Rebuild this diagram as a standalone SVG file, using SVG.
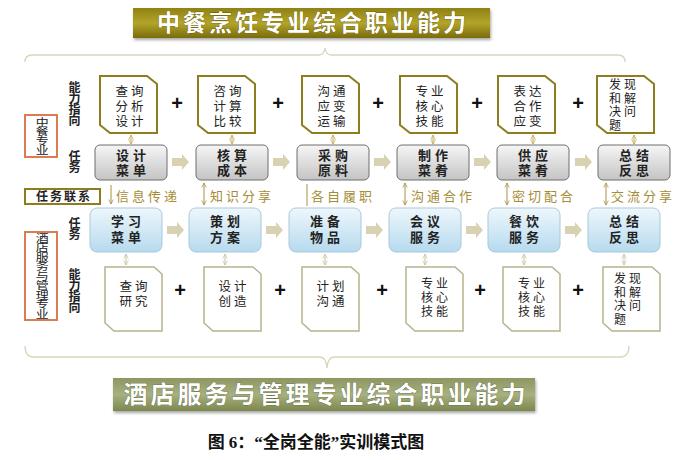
<svg xmlns="http://www.w3.org/2000/svg" width="685" height="460" viewBox="0 0 685 460">
<defs>
<linearGradient id="gTitle" x1="0" y1="0" x2="0" y2="1">
<stop offset="0" stop-color="#8f8112"/><stop offset="0.5" stop-color="#b3a42a"/><stop offset="1" stop-color="#7a6c0c"/>
</linearGradient>
<linearGradient id="gGreen" x1="0" y1="0" x2="0" y2="1">
<stop offset="0" stop-color="#8c9762"/><stop offset="0.5" stop-color="#a7b07e"/><stop offset="1" stop-color="#7c874f"/>
</linearGradient>
<linearGradient id="gGray" x1="0" y1="0" x2="0" y2="1">
<stop offset="0" stop-color="#f6f6f6"/><stop offset="1" stop-color="#c4c4c4"/>
</linearGradient>
<linearGradient id="gBlue" x1="0" y1="0" x2="0" y2="1">
<stop offset="0" stop-color="#eef7fc"/><stop offset="1" stop-color="#b6daee"/>
</linearGradient>
<filter id="sh" x="-10%" y="-20%" width="120%" height="150%">
<feDropShadow dx="1" dy="2" stdDeviation="1.5" flood-color="#000" flood-opacity="0.35"/>
</filter>
<marker id="ah" viewBox="0 0 8 8" refX="7" refY="4" markerWidth="6" markerHeight="6" orient="auto-start-reverse">
<path d="M1,1 L7,4 L1,7" fill="none" stroke="#a89040" stroke-width="1"/>
</marker>
<marker id="ahT" viewBox="0 0 8 8" refX="7" refY="4" markerWidth="6" markerHeight="6" orient="auto-start-reverse">
<path d="M1,1 L7,4 L1,7" fill="none" stroke="#c0a850" stroke-width="1"/>
</marker>
<marker id="ahB" viewBox="0 0 8 8" refX="7" refY="4" markerWidth="6" markerHeight="6" orient="auto-start-reverse">
<path d="M1,1 L7,4 L1,7" fill="none" stroke="#c8c2a2" stroke-width="1"/>
</marker>
<path id="blk" d="M0,-4 H10 V-8 L17,0 L10,8 V4 H0 Z"/>
</defs>
<style>
text{font-family:"Liberation Sans","Noto Sans CJK SC",sans-serif;}
.t{font-size:12.5px;fill:#222;text-anchor:middle;letter-spacing:3px;}
.t3{font-size:12px;fill:#222;text-anchor:middle;letter-spacing:3px;}
.ts{font-size:12px;fill:#222;letter-spacing:3px;}
.tb{font-size:13px;fill:#222;font-weight:600;text-anchor:middle;letter-spacing:4px;}
.side{font-size:12px;fill:#222;font-weight:bold;writing-mode:vertical-rl;letter-spacing:-0.8px;}
.vert{font-size:10px;fill:#222;writing-mode:vertical-rl;letter-spacing:-0.5px;}
.lbl{font-size:13px;fill:#a58d35;letter-spacing:3px;}
.plus{font-size:20px;fill:#111;text-anchor:middle;font-weight:bold;}
.docT{fill:#fff;stroke:#8d7d1f;stroke-width:2;}
.docB{fill:#fff;stroke:#b6b28e;stroke-width:1.5;}
.gray{fill:url(#gGray);stroke:#6e6e6e;stroke-width:1;}
.blue{fill:url(#gBlue);stroke:#a9c9dc;stroke-width:1;}
.brace{fill:none;stroke:#d9d5bb;stroke-width:1.3;}
.ar{fill:#d8d2b2;}
.dT{stroke:#c0a850;stroke-width:1;marker-start:url(#ahT);marker-end:url(#ahT);}
.dB{stroke:#c8c2a2;stroke-width:1;marker-start:url(#ahB);marker-end:url(#ahB);}
.lk{stroke:#a89040;stroke-width:1;fill:none;}
</style>

<!-- Title -->
<g id="title-top">
<rect x="133" y="8" width="357" height="30" fill="url(#gTitle)" filter="url(#sh)"/>
<text x="313" y="31" font-size="23" font-weight="bold" fill="#fff" text-anchor="middle" letter-spacing="3" style="paint-order:stroke" stroke="#5a5000" stroke-width="0.6">中餐烹饪专业综合职业能力</text>
</g>

<!-- Braces -->
<g id="braces">
<path class="brace" d="M25,62 Q25,55 32,55 H319 Q324,55 325,48 Q326,55 331,55 H618 Q625,55 625,62"/>
<path class="brace" d="M25,346 Q25,357 34,357 H320 Q326,357 327,368 Q328,357 334,357 H620 Q629,357 629,346"/>
</g>

<!-- Left labels -->
<g id="left-labels">
<text class="side" x="73" y="81">能力指向</text>
<text class="side" x="73" y="150">任务</text>
<text class="side" x="73" y="217">任务</text>
<text class="side" x="73" y="268">能力指向</text>
</g>
<g id="major-chef">
<rect x="25" y="115" width="32" height="42" fill="#fff" stroke="#dd7d4f" stroke-width="2"/>
<text class="vert" transform="translate(41,117) scale(1.3,1)" x="0" y="0">中餐专业</text>
</g>
<g id="link-label">
<rect x="25" y="189" width="75" height="15" fill="#fff" stroke="#8d7d1f" stroke-width="2"/>
<text x="64" y="201" font-size="12" font-weight="bold" fill="#222" text-anchor="middle" letter-spacing="2">任务联系</text>
</g>
<g id="major-hotel">
<rect x="25" y="232" width="32" height="88" fill="#fff" stroke="#dd7d4f" stroke-width="2"/>
<text class="vert" transform="translate(41,233) scale(1.3,1)" x="0" y="0">酒店服务与管理专业</text>
</g>

<!-- Top ability docs -->
<g id="top-doc-1"><path class="docT" d="M100,76 H147 L157,84 V133 H110 L100,125 Z"/>
<text class="t"><tspan x="131" y="96">查询</tspan><tspan x="131" y="111">分析</tspan><tspan x="131" y="126">设计</tspan></text></g>
<g id="top-doc-2"><path class="docT" d="M198,76 H245 L255,84 V133 H208 L198,125 Z"/>
<text class="t"><tspan x="229" y="96">咨询</tspan><tspan x="229" y="111">计算</tspan><tspan x="229" y="126">比较</tspan></text></g>
<g id="top-doc-3"><path class="docT" d="M302,76 H349 L359,84 V133 H312 L302,125 Z"/>
<text class="t"><tspan x="333" y="96">沟通</tspan><tspan x="333" y="111">应变</tspan><tspan x="333" y="126">运输</tspan></text></g>
<g id="top-doc-4"><path class="docT" d="M400,76 H447 L457,84 V133 H410 L400,125 Z"/>
<text class="t"><tspan x="431" y="96">专业</tspan><tspan x="431" y="111">核心</tspan><tspan x="431" y="126">技能</tspan></text></g>
<g id="top-doc-5"><path class="docT" d="M498,76 H545 L555,84 V133 H508 L498,125 Z"/>
<text class="t"><tspan x="529" y="96">表达</tspan><tspan x="529" y="111">合作</tspan><tspan x="529" y="126">应变</tspan></text></g>
<g id="top-doc-6"><path class="docT" d="M597,76 H644 L654,84 V133 H607 L597,125 Z"/>
<text class="ts"><tspan x="609" y="89">发现</tspan><tspan x="609" y="102.5">和解</tspan><tspan x="609" y="116">决问</tspan><tspan x="609" y="129.5">题</tspan></text></g>

<!-- Plus signs -->
<g id="plus-signs">
<text class="plus" x="177" y="110">+</text><text class="plus" x="278" y="110">+</text><text class="plus" x="378" y="110">+</text><text class="plus" x="477" y="110">+</text><text class="plus" x="578" y="110">+</text>
<text class="plus" x="180" y="297">+</text><text class="plus" x="280" y="297">+</text><text class="plus" x="382" y="297">+</text><text class="plus" x="480" y="297">+</text><text class="plus" x="578" y="297">+</text>
</g>

<!-- Top task boxes -->
<g id="task-chef-1"><rect class="gray" x="95" y="145" width="72" height="35" rx="5"/><text class="tb"><tspan x="133" y="160">设计</tspan><tspan x="133" y="175">菜单</tspan></text></g>
<g id="task-chef-2"><rect class="gray" x="196" y="145" width="72" height="35" rx="5"/><text class="tb"><tspan x="234" y="160">核算</tspan><tspan x="234" y="175">成本</tspan></text></g>
<g id="task-chef-3"><rect class="gray" x="297" y="145" width="72" height="35" rx="5"/><text class="tb"><tspan x="335" y="160">采购</tspan><tspan x="335" y="175">原料</tspan></text></g>
<g id="task-chef-4"><rect class="gray" x="397" y="145" width="72" height="35" rx="5"/><text class="tb"><tspan x="435" y="160">制作</tspan><tspan x="435" y="175">菜肴</tspan></text></g>
<g id="task-chef-5"><rect class="gray" x="497" y="145" width="72" height="35" rx="5"/><text class="tb"><tspan x="535" y="160">供应</tspan><tspan x="535" y="175">菜肴</tspan></text></g>
<g id="task-chef-6"><rect class="gray" x="598" y="145" width="72" height="35" rx="5"/><text class="tb"><tspan x="636" y="160">总结</tspan><tspan x="636" y="175">反思</tspan></text></g>

<!-- Bottom task boxes -->
<g id="task-hotel-1"><rect class="blue" x="90" y="208" width="72" height="44" rx="7"/><text class="tb"><tspan x="128" y="226">学习</tspan><tspan x="128" y="242">菜单</tspan></text></g>
<g id="task-hotel-2"><rect class="blue" x="189" y="208" width="72" height="44" rx="7"/><text class="tb"><tspan x="227" y="226">策划</tspan><tspan x="227" y="242">方案</tspan></text></g>
<g id="task-hotel-3"><rect class="blue" x="289" y="208" width="72" height="44" rx="7"/><text class="tb"><tspan x="327" y="226">准备</tspan><tspan x="327" y="242">物品</tspan></text></g>
<g id="task-hotel-4"><rect class="blue" x="389" y="208" width="72" height="44" rx="7"/><text class="tb"><tspan x="427" y="226">会议</tspan><tspan x="427" y="242">服务</tspan></text></g>
<g id="task-hotel-5"><rect class="blue" x="488" y="208" width="72" height="44" rx="7"/><text class="tb"><tspan x="526" y="226">餐饮</tspan><tspan x="526" y="242">服务</tspan></text></g>
<g id="task-hotel-6"><rect class="blue" x="588" y="208" width="72" height="44" rx="7"/><text class="tb"><tspan x="626" y="226">总结</tspan><tspan x="626" y="242">反思</tspan></text></g>

<!-- Bottom ability docs -->
<g id="bot-doc-1"><path class="docB" d="M105,267 H154 L162,274 V331 H114 L105,323 Z"/>
<text class="t"><tspan x="135" y="291">查询</tspan><tspan x="135" y="306">研究</tspan></text></g>
<g id="bot-doc-2"><path class="docB" d="M204,267 H253 L261,274 V331 H213 L204,323 Z"/>
<text class="t"><tspan x="234" y="291">设计</tspan><tspan x="234" y="306">创造</tspan></text></g>
<g id="bot-doc-3"><path class="docB" d="M302,267 H351 L359,274 V331 H311 L302,323 Z"/>
<text class="t"><tspan x="332" y="291">计划</tspan><tspan x="332" y="306">沟通</tspan></text></g>
<g id="bot-doc-4"><path class="docB" d="M406,267 H455 L463,274 V331 H415 L406,323 Z"/>
<text class="t3"><tspan x="436" y="288">专业</tspan><tspan x="436" y="302">核心</tspan><tspan x="436" y="316">技能</tspan></text></g>
<g id="bot-doc-5"><path class="docB" d="M503,267 H552 L560,274 V331 H512 L503,323 Z"/>
<text class="t3"><tspan x="533" y="288">专业</tspan><tspan x="533" y="302">核心</tspan><tspan x="533" y="316">技能</tspan></text></g>
<g id="bot-doc-6"><path class="docB" d="M603,267 H652 L660,274 V331 H612 L603,323 Z"/>
<text class="ts"><tspan x="614" y="283">发现</tspan><tspan x="614" y="296.5">和解</tspan><tspan x="614" y="310">决问</tspan><tspan x="614" y="323.5">题</tspan></text></g>

<!-- Connectors -->
<g id="connectors">
<g class="ar">
<use href="#blk" x="172" y="162"/><use href="#blk" x="273" y="162"/><use href="#blk" x="374" y="162"/><use href="#blk" x="474" y="162"/><use href="#blk" x="575" y="162"/>
<use href="#blk" x="167" y="230"/><use href="#blk" x="266" y="230"/><use href="#blk" x="366" y="230"/><use href="#blk" x="466" y="230"/><use href="#blk" x="565" y="230"/>
</g>
<line class="dT" x1="131" y1="135" x2="131" y2="144"/>
<line class="dT" x1="232" y1="135" x2="232" y2="144"/>
<line class="dT" x1="333" y1="135" x2="333" y2="144"/>
<line class="dT" x1="433" y1="135" x2="433" y2="144"/>
<line class="dT" x1="533" y1="135" x2="533" y2="144"/>
<line class="dT" x1="634" y1="135" x2="634" y2="144"/>
<line class="dB" x1="126" y1="254" x2="126" y2="265"/>
<line class="dB" x1="225" y1="254" x2="225" y2="265"/>
<line class="dB" x1="325" y1="254" x2="325" y2="265"/>
<line class="dB" x1="425" y1="254" x2="425" y2="265"/>
<line class="dB" x1="524" y1="254" x2="524" y2="265"/>
<line class="dB" x1="624" y1="254" x2="624" y2="265"/>
<line class="lk" x1="111" y1="185" x2="111" y2="204" marker-end="url(#ah)"/>
<line class="lk" x1="204" y1="183" x2="204" y2="205" marker-start="url(#ah)" marker-end="url(#ah)"/>
<line class="lk" x1="307" y1="184" x2="307" y2="206"/>
<line class="lk" x1="405" y1="183" x2="405" y2="205" marker-start="url(#ah)" marker-end="url(#ah)"/>
<line class="lk" x1="507" y1="183" x2="507" y2="205" marker-start="url(#ah)" marker-end="url(#ah)"/>
<line class="lk" x1="606" y1="183" x2="606" y2="205" marker-start="url(#ah)" marker-end="url(#ah)"/>
<text class="lbl" x="116" y="201">信息传递</text>
<text class="lbl" x="210" y="201">知识分享</text>
<text class="lbl" x="311" y="201">各自履职</text>
<text class="lbl" x="411" y="201">沟通合作</text>
<text class="lbl" x="512" y="201">密切配合</text>
<text class="lbl" x="611" y="201">交流分享</text>
</g>

<!-- Bottom title -->
<g id="title-bottom">
<rect x="113" y="378" width="422" height="33" fill="url(#gGreen)" filter="url(#sh)"/>
<text x="326" y="403" font-size="24" font-weight="bold" fill="#fff" text-anchor="middle" letter-spacing="3" style="paint-order:stroke" stroke="#4e5630" stroke-width="0.6">酒店服务与管理专业综合职业能力</text>
</g>

<g id="caption">
<text x="316" y="448" font-size="17" font-weight="bold" fill="#111" text-anchor="middle" style="font-family:'Liberation Serif','Noto Sans CJK SC',serif">图 6：“全岗全能”实训模式图</text>
</g>
</svg>
